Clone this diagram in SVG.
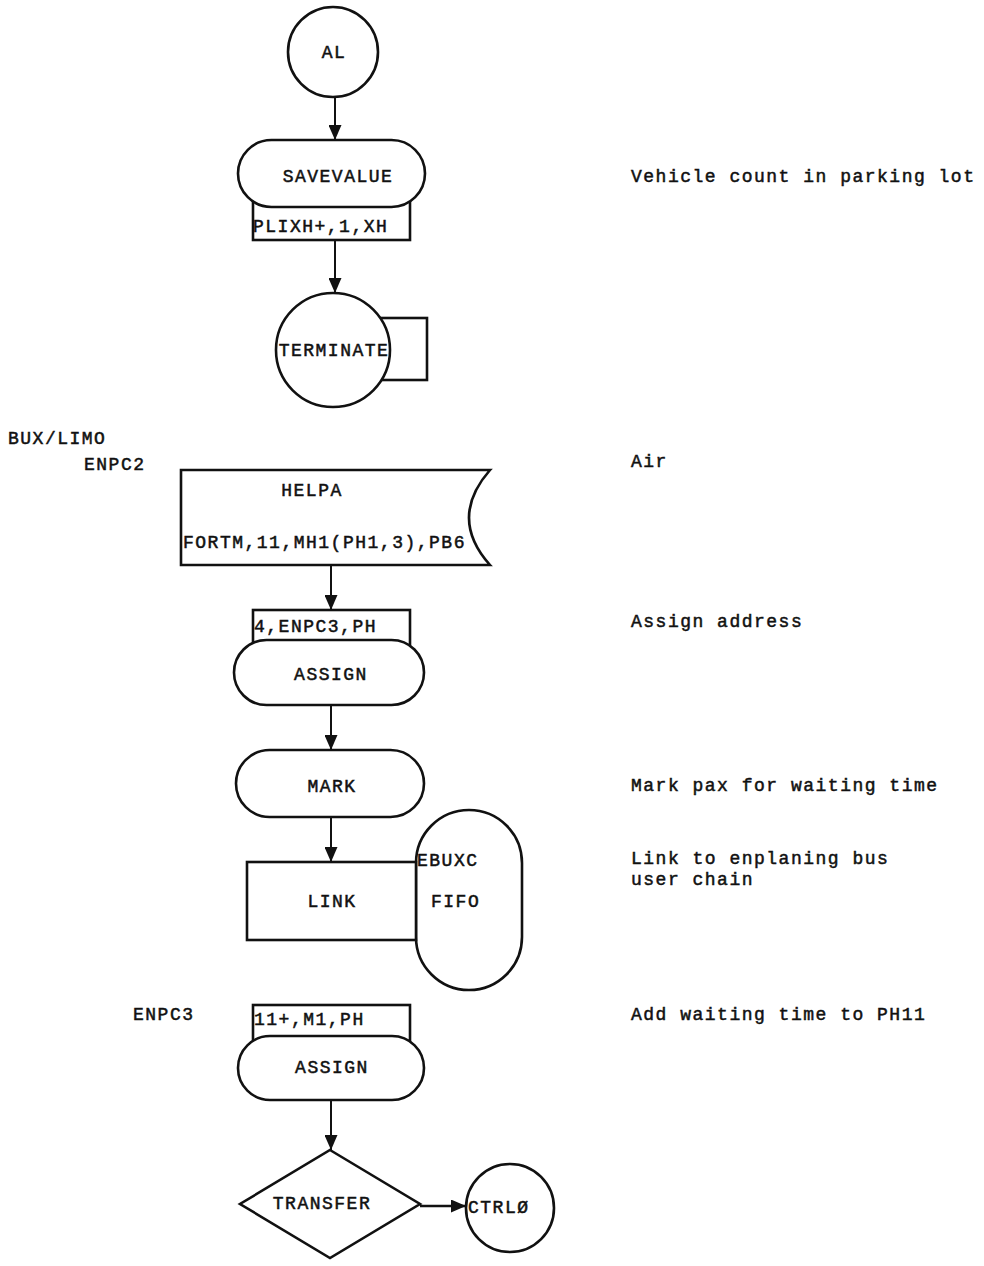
<svg xmlns="http://www.w3.org/2000/svg" width="984" height="1266" viewBox="0 0 984 1266">
<style>
text{font-family:"Liberation Mono","Courier New",monospace;font-size:18px;letter-spacing:1.5px;fill:#111;stroke:#111;stroke-width:0.5}
.c{text-anchor:middle}
.s{fill:none;stroke:#111;stroke-width:2.6}
.w{fill:#fff;stroke:#111;stroke-width:2.6}
.l{stroke:#111;stroke-width:2;fill:none}
</style>
<defs>
<marker id="ah" markerWidth="15" markerHeight="13" refX="15" refY="6.5" orient="auto" markerUnits="userSpaceOnUse">
<path d="M0,0 L15,6.5 L0,13 Z" fill="#111"/>
</marker>
</defs>
<rect width="984" height="1266" fill="#fff"/>
<g id="al">
<circle class="w" cx="333" cy="52" r="45"/>
<text class="c" x="334" y="58">AL</text>
</g>
<g id="savevalue">
<rect class="w" x="253" y="200" width="157" height="40"/>
<rect class="w" x="238" y="140" width="187" height="67" rx="33.5"/>
<text class="c" x="338" y="182">SAVEVALUE</text>
<text x="253" y="232">PLIXH+,1,XH</text>
</g>
<g id="terminate">
<rect class="s" x="380" y="318" width="47" height="62"/>
<circle class="w" cx="333" cy="350" r="57"/>
<text class="c" x="334" y="356">TERMINATE</text>
</g>
<g id="labels-left">
<text x="8" y="444">BUX/LIMO</text>
<text x="84" y="470">ENPC2</text>
<text x="133" y="1020">ENPC3</text>
</g>
<g id="helpa">
<path class="w" d="M181,470 L490,470 Q448,518 490,565 L181,565 Z"/>
<text class="c" x="312" y="496">HELPA</text>
<text x="183" y="548">FORTM,11,MH1(PH1,3),PB6</text>
</g>
<g id="assign1">
<rect class="w" x="253" y="610" width="157" height="36"/>
<rect class="w" x="234" y="640" width="190" height="65" rx="32.5"/>
<text x="254" y="632">4,ENPC3,PH</text>
<text class="c" x="331" y="680">ASSIGN</text>
</g>
<g id="mark">
<rect class="w" x="236" y="750" width="188" height="67" rx="33.5"/>
<text class="c" x="332" y="792">MARK</text>
</g>
<g id="link">
<rect class="w" x="416" y="810" width="106" height="180" rx="53"/>
<rect class="w" x="247" y="862" width="169" height="78"/>
<text class="c" x="332" y="907">LINK</text>
<text x="417" y="866">EBUXC</text>
<text x="431" y="907">FIFO</text>
</g>
<g id="assign2">
<rect class="w" x="253" y="1005" width="157" height="36"/>
<rect class="w" x="238" y="1036" width="186" height="64" rx="32"/>
<text x="254" y="1025">11+,M1,PH</text>
<text class="c" x="332" y="1073">ASSIGN</text>
</g>
<g id="transfer">
<path class="w" d="M330,1150 L420,1204 L330,1258 L240,1204 Z"/>
<text class="c" x="322" y="1209">TRANSFER</text>
</g>
<g id="ctrl0">
<circle class="w" cx="510" cy="1208" r="44"/>
<text x="468" y="1213">CTRLØ</text>
</g>
<g id="comments">
<text x="631" y="182">Vehicle count in parking lot</text>
<text x="631" y="467">Air</text>
<text x="631" y="627">Assign address</text>
<text x="631" y="791">Mark pax for waiting time</text>
<text x="631" y="864">Link to enplaning bus</text>
<text x="631" y="885">user chain</text>
<text x="631" y="1020">Add waiting time to PH11</text>
</g>
<g id="connectors">
<line class="l" x1="335" y1="97" x2="335" y2="140" marker-end="url(#ah)"/>
<line class="l" x1="335" y1="240" x2="335" y2="293" marker-end="url(#ah)"/>
<line class="l" x1="331" y1="565" x2="331" y2="610" marker-end="url(#ah)"/>
<line class="l" x1="331" y1="705" x2="331" y2="750" marker-end="url(#ah)"/>
<line class="l" x1="331" y1="817" x2="331" y2="862" marker-end="url(#ah)"/>
<line class="l" x1="331" y1="1100" x2="331" y2="1150" marker-end="url(#ah)"/>
<line class="l" x1="420" y1="1206" x2="466" y2="1206" marker-end="url(#ah)" style="stroke-width:2.6"/>
</g>
</svg>
